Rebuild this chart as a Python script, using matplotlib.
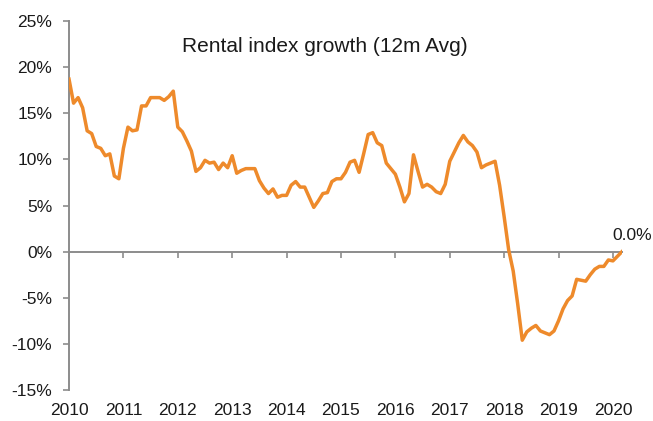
import numpy as np
import matplotlib
matplotlib.use("Agg")
import matplotlib.pyplot as plt

# Monthly rental index growth (12m avg, %), Jan 2010 .. Mar 2020
growth = [
    18.7, 16.1, 16.7, 15.6, 13.1, 12.8, 11.4, 11.2, 10.4, 10.6, 8.2, 7.9,      # 2010
    11.2, 13.5, 13.1, 13.2, 15.8, 15.8, 16.7, 16.7, 16.7, 16.4, 16.8, 17.4,    # 2011
    13.5, 13.0, 12.0, 10.9, 8.7, 9.1, 9.9, 9.6, 9.7, 8.9, 9.6, 9.1,            # 2012
    10.4, 8.5, 8.8, 9.0, 9.0, 9.0, 7.7, 6.9, 6.3, 6.8, 5.9, 6.1,               # 2013
    6.1, 7.2, 7.6, 7.0, 7.0, 5.9, 4.8, 5.5, 6.3, 6.4, 7.6, 7.9,                # 2014
    7.9, 8.6, 9.7, 9.9, 8.6, 10.6, 12.7, 12.9, 11.8, 11.5, 9.6, 9.0,           # 2015
    8.4, 7.0, 5.4, 6.3, 10.5, 8.7, 7.0, 7.3, 7.0, 6.5, 6.3, 7.3,               # 2016
    9.8, 10.8, 11.8, 12.6, 11.9, 11.5, 10.8, 9.1, 9.4, 9.6, 9.8, 7.2,          # 2017
    3.8, 0.2, -2.1, -5.7, -9.6, -8.7, -8.3, -8.0, -8.6, -8.8, -9.0, -8.6,      # 2018
    -7.5, -6.2, -5.3, -4.8, -3.0, -3.1, -3.2, -2.5, -1.9, -1.6, -1.6, -0.9,    # 2019
    -1.0, -0.5, 0.0,                                                            # 2020
]
start_year = 2010
years = [2010, 2011, 2012, 2013, 2014, 2015, 2016, 2017, 2018, 2019, 2020]
year_labels = ["2010", "2011", "2012", "2013", "2014", "2015", "2016", "2017", "2018", "2019", "2020"]
y_ticks = [25, 20, 15, 10, 5, 0, -5, -10, -15]
y_labels = ["25%", "20%", "15%", "10%", "5%", "0%", "-5%", "-10%", "-15%"]
title = "Rental index growth (12m Avg)"
end_label = "0.0%"

x = start_year + np.arange(len(growth)) / 12.0

plt.rcParams['font.family'] = ['Liberation Sans', 'DejaVu Sans']
txt = '#1a1a1a'
gray = '#8c8c8c'

fig = plt.figure(figsize=(6.53, 4.21), dpi=100)
ax = fig.add_axes([0.1057, 0.0736, 0.9525 - 0.1057, 0.950 - 0.0736])

ax.plot(x, growth, color='#EE8A2B', lw=2.5, solid_joinstyle='round', zorder=3)

ax.set_xlim(2010, x[-1])
ax.set_ylim(-15, 25)

for s in ['top', 'right']:
    ax.spines[s].set_visible(False)
ax.spines['left'].set_color(gray)
ax.spines['left'].set_linewidth(1.4)
ax.spines['bottom'].set_position(('data', 0))
ax.spines['bottom'].set_color(gray)
ax.spines['bottom'].set_linewidth(1.4)
ax.spines['bottom'].set_zorder(2)

ax.set_yticks(y_ticks)
ax.set_yticklabels(y_labels)
ax.tick_params(axis='y', direction='out', length=4, width=1.2, color=gray,
               labelsize=12.5, labelcolor=txt, pad=8)

ax.set_xticks(years)
ax.set_xticklabels([])
ax.tick_params(axis='x', direction='out', length=4, width=1.2, color=gray)

sec = ax.secondary_xaxis('bottom')
sec.set_xticks(years)
sec.set_xticklabels(year_labels)
sec.tick_params(length=0, labelsize=12.5, labelcolor=txt, pad=9)
sec.spines['bottom'].set_visible(False)

ax.text(0.463, 0.932, title, transform=ax.transAxes, ha='center', va='center',
        fontsize=15, color=txt)

ax.annotate(end_label, xy=(x[-1], growth[-1]), xytext=(7, 6),
            textcoords='offset points', ha='center', va='bottom',
            fontsize=12.5, color=txt, annotation_clip=False)

fig.savefig('out.png', dpi=100)
